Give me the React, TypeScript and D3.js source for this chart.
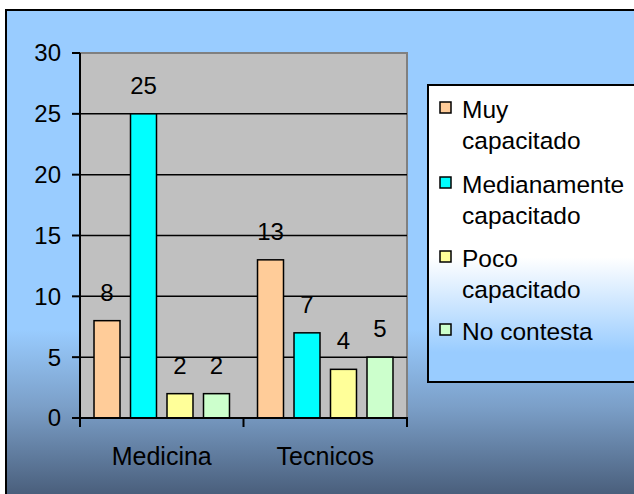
import React from "react";
import * as d3 from "d3";

const categories = ["Medicina", "Tecnicos"];
const seriesNames = ["Muy capacitado", "Medianamente capacitado", "Poco capacitado", "No contesta"];
const legendLines = [["Muy", "capacitado"], ["Medianamente", "capacitado"], ["Poco", "capacitado"], ["No contesta"]];
const seriesColors = ["#ffcc99", "#00ffff", "#ffff99", "#ccffcc"];
const values = [
  [8, 13],
  [25, 7],
  [2, 4],
  [2, 5],
];
const yTicks = [0, 5, 10, 15, 20, 25, 30];

const W = 634;
const H = 494;
const plot = { left: 80, right: 407, top: 53, bottom: 418 };
const font = "'Liberation Sans', Arial, sans-serif";

export default function App() {
  const x0 = d3.scaleBand<string>().domain(categories).range([plot.left, plot.right]).padding(0);
  const x1 = d3
    .scaleBand<string>()
    .domain(seriesNames)
    .range([0, x0.bandwidth()])
    .paddingInner(0.288)
    .paddingOuter(0.384);
  const y = d3.scaleLinear().domain([0, 30]).range([plot.bottom, plot.top]);

  const legendBaselines = [118, 193, 267, 340];

  return (
    <svg
      width={W}
      height={H}
      style={{ position: "absolute", left: 0, top: 0, fontFamily: font }}
    >
      <defs>
        <linearGradient id="bg" x1="0" y1="0" x2="0" y2="1">
          <stop offset="0" stopColor="#99ccff" />
          <stop offset="0.66" stopColor="#99ccff" />
          <stop offset="0.82" stopColor="#7b9fc8" />
          <stop offset="1" stopColor="#4a5f7c" />
        </linearGradient>
        <linearGradient id="lg" x1="0" y1="0" x2="0" y2="1">
          <stop offset="0" stopColor="#ffffff" />
          <stop offset="0.58" stopColor="#ffffff" />
          <stop offset="0.9" stopColor="#99ccff" />
          <stop offset="1" stopColor="#99ccff" />
        </linearGradient>
      </defs>
      <rect x={0} y={0} width={W} height={H} fill="#ffffff" />
      <rect x={6} y={10} width={W - 6} height={H - 10} fill="url(#bg)" />
      <line x1={5} y1={10} x2={W} y2={10} stroke="#000" strokeWidth={2} />
      <line x1={6} y1={9} x2={6} y2={H} stroke="#000" strokeWidth={2} />

      {/* plot area */}
      <rect
        x={plot.left}
        y={plot.top}
        width={plot.right - plot.left}
        height={plot.bottom - plot.top}
        fill="#c0c0c0"
      />
      <line x1={plot.left} y1={plot.top} x2={plot.right + 1} y2={plot.top} stroke="#808080" strokeWidth={2} />
      <line x1={plot.right} y1={plot.top} x2={plot.right} y2={plot.bottom} stroke="#808080" strokeWidth={2} />

      {/* gridlines */}
      {yTicks.slice(1, -1).map((t) => (
        <line key={t} x1={plot.left} x2={plot.right} y1={y(t)} y2={y(t)} stroke="#000" strokeWidth={1.5} />
      ))}

      {/* bars */}
      {seriesNames.map((s, si) =>
        categories.map((c, ci) => {
          const v = values[si][ci];
          const bx = (x0(c) as number) + (x1(s) as number);
          return (
            <g key={s + c}>
              <rect
                x={bx}
                y={y(v)}
                width={x1.bandwidth()}
                height={y(0) - y(v)}
                fill={seriesColors[si]}
                stroke="#000"
                strokeWidth={1.5}
              />
              <text
                x={bx + x1.bandwidth() / 2}
                y={y(v) - 20}
                textAnchor="middle"
                fontSize={24}
                fill="#000"
              >
                {v}
              </text>
            </g>
          );
        })
      )}

      {/* y axis */}
      <line x1={plot.left} x2={plot.left} y1={plot.top} y2={plot.bottom} stroke="#000" strokeWidth={2} />
      {yTicks.map((t) => (
        <g key={t}>
          <line x1={72} x2={plot.left} y1={y(t)} y2={y(t)} stroke="#000" strokeWidth={2} />
          <text x={61} y={y(t)} dy="0.35em" textAnchor="end" fontSize={24} fill="#000">
            {t}
          </text>
        </g>
      ))}

      {/* x axis */}
      <line x1={plot.left} x2={plot.right + 1} y1={plot.bottom} y2={plot.bottom} stroke="#000" strokeWidth={2} />
      {[plot.left, ...categories.map((c) => (x0(c) as number) + x0.bandwidth())].map((tx, i) => (
        <line key={i} x1={tx} x2={tx} y1={plot.bottom} y2={plot.bottom + 9} stroke="#000" strokeWidth={2} />
      ))}
      {categories.map((c) => (
        <text
          key={c}
          x={(x0(c) as number) + x0.bandwidth() / 2}
          y={465}
          textAnchor="middle"
          fontSize={25}
          fill="#000"
        >
          {c}
        </text>
      ))}

      {/* legend */}
      <rect x={428} y={85} width={W - 428 + 5} height={297} fill="url(#lg)" stroke="#000" strokeWidth={2} />
      {seriesNames.map((s, i) => (
        <g key={s}>
          <rect
            x={440}
            y={legendBaselines[i] - 16}
            width={11}
            height={11}
            fill={seriesColors[i]}
            stroke="#000"
            strokeWidth={1.5}
          />
          {legendLines[i].map((ln, li) => (
            <text key={li} x={462} y={legendBaselines[i] + li * 31} fontSize={24.5} fill="#000">
              {ln}
            </text>
          ))}
        </g>
      ))}
    </svg>
  );
}
